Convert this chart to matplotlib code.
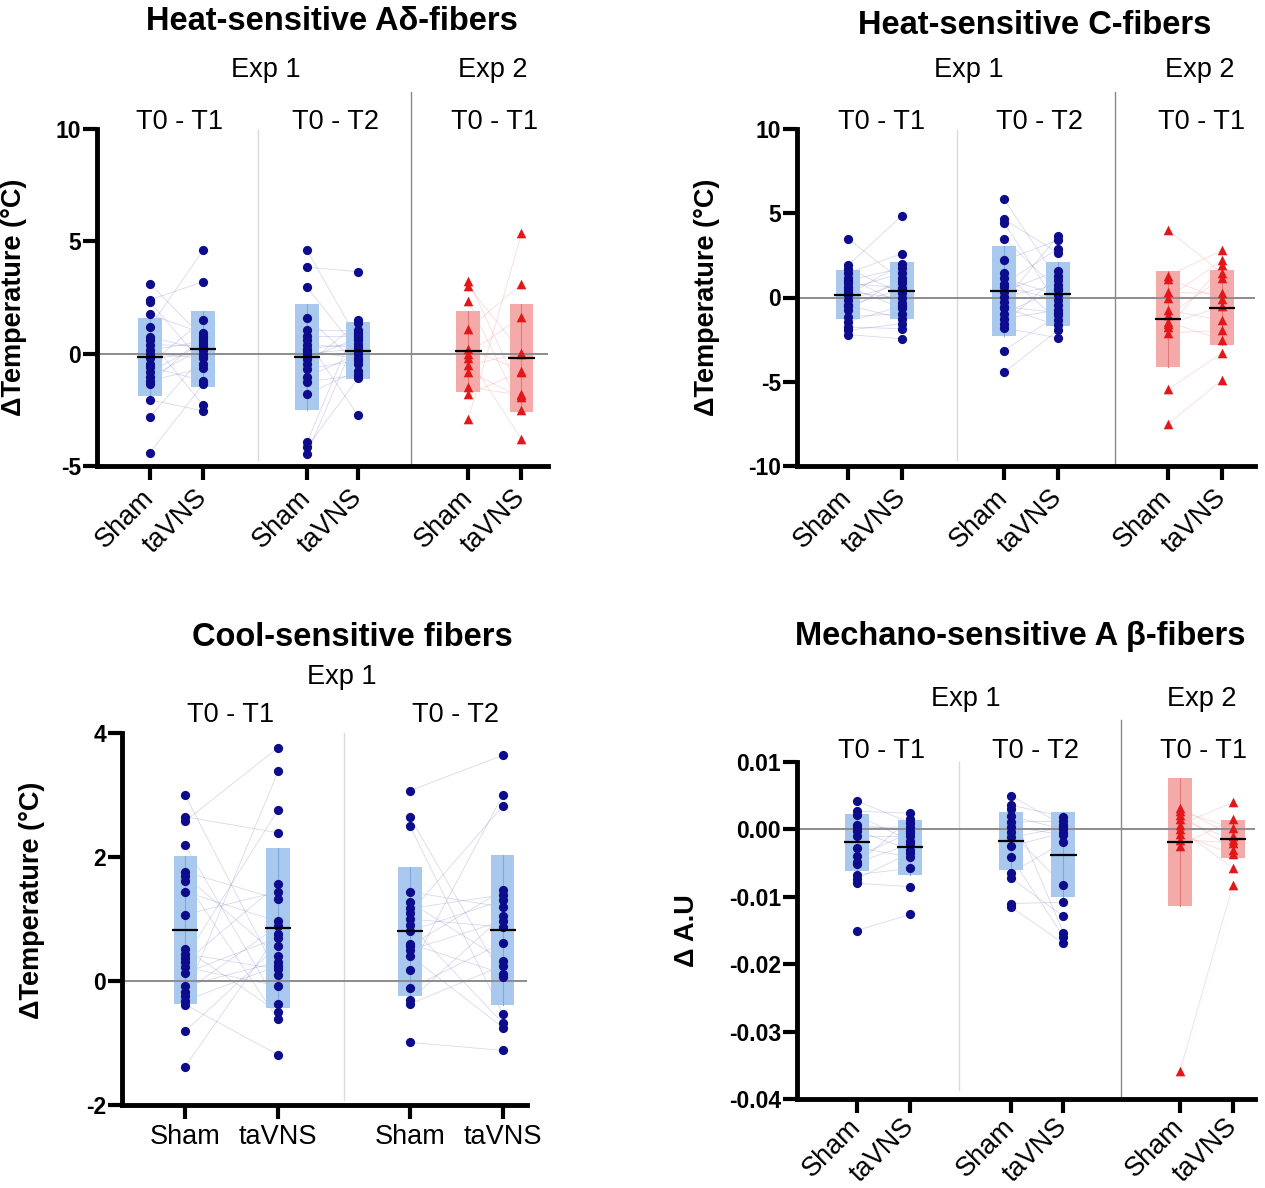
import matplotlib
matplotlib.use('Agg')
import matplotlib.pyplot as plt
import matplotlib.transforms as mtransforms

plt.rcParams['font.family'] = ['Liberation Sans', 'DejaVu Sans']

# ---------------- DATA ----------------
categories = ['Sham', 'taVNS']

# Heat-sensitive A-delta fibers
ad_sham_t1 = [3.1, 2.4, 2.3, 1.75, 1.2, 0.75, 0.6, 0.4, 0.15, 0.0, -0.2, -0.45, -0.6, -0.8, -1.05, -1.2, -1.35, -2.05, -2.8, -4.4]
ad_tavns_t1 = [0.7, 3.2, -0.45, 0.9, 4.6, 0.15, -2.3, 0.35, 0.55, -0.2, 0.0, 1.5, -1.2, 0.45, 0.25, -0.65, 0.8, -2.55, -0.1, -1.35]
ad_sham_t2 = [4.6, 3.85, 2.95, 1.6, 1.05, 0.8, 0.6, 0.37, 0.22, 0.1, 0.0, -0.22, -0.45, -0.67, -1.05, -1.25, -1.8, -3.95, -4.15, -4.45]
ad_tavns_t2 = [0.6, 3.65, 0.1, -0.45, 1.05, 0.8, -2.75, 0.3, 0.45, -0.2, 0.22, 0.7, 1.35, -0.3, 0.0, -0.95, -0.75, 1.5, -1.1, 0.9]
ad_sham_e2 = [3.25, 3.0, 2.35, 1.1, 0.2, 0.0, -0.2, -0.5, -0.8, -1.5, -1.8, -2.9]
ad_tavns_e2 = [-1.8, 0.05, -2.5, 3.1, -0.75, 1.65, -3.8, 0.0, -1.95, -1.85, -0.8, 5.35]
ad_means = [-0.15, 0.2, -0.15, 0.13, 0.1, -0.2]
ad_sds = [1.75, 1.7, 2.35, 1.27, 1.8, 2.4]

# Heat-sensitive C fibers
c_sham_t1 = [3.5, 1.9, 1.7, 1.45, 1.15, 1.0, 0.85, 0.65, 0.5, 0.35, 0.15, -0.15, -0.45, -0.5, -0.75, -1.15, -1.45, -1.75, -1.95, -2.2]
c_tavns_t1 = [1.0, 4.85, 0.25, 2.6, -0.35, 1.75, 0.55, -0.65, 1.45, -0.05, 2.0, 0.85, -1.25, 0.5, 1.15, -0.95, -0.5, -1.85, -1.55, -2.45]
c_sham_t2 = [5.85, 4.65, 4.45, 3.5, 2.2, 1.45, 1.15, 0.8, 0.65, 0.35, 0.05, -0.25, -0.55, -0.6, -0.95, -1.25, -1.55, -1.8, -3.15, -4.45]
c_tavns_t2 = [1.05, 2.65, -0.45, 0.45, 3.4, -1.35, 0.15, 2.9, -0.15, 1.6, 0.75, 3.65, -0.9, -1.65, 0.5, -0.75, 1.3, -2.4, -1.05, -1.95]
c_sham_e2 = [4.0, 1.3, 1.1, 0.3, 0.0, -0.75, -1.05, -1.45, -1.6, -1.75, -2.1, -5.45, -7.5]
c_tavns_e2 = [1.45, 2.8, -0.1, 0.25, 2.2, -1.35, 1.15, -2.5, -0.5, 1.9, -1.95, -3.3, -4.9]
c_means = [0.165, 0.4, 0.4, 0.21, -1.25, -0.6]
c_sds = [1.47, 1.7, 2.68, 1.91, 2.85, 2.23]

# Cool-sensitive fibers
cool_sham_t1 = [3.0, 2.65, 2.58, 2.19, 1.76, 1.7, 1.62, 1.44, 1.07, 0.52, 0.44, 0.37, 0.3, 0.22, 0.13, -0.08, -0.17, -0.24, -0.32, -0.38, -0.81, -1.38]
cool_tavns_t1 = [0.09, 2.39, 3.76, -0.37, 1.32, 0.4, -0.62, 0.96, 1.44, -0.5, 0.19, 2.76, 1.56, -0.08, 0.7, 0.31, 0.89, 3.38, 0.25, -1.19, 0.57, 0.76]
cool_sham_t2 = [3.07, 2.64, 2.5, 1.44, 1.27, 1.17, 1.1, 1.0, 0.9, 0.81, 0.6, 0.57, 0.5, 0.41, 0.18, -0.12, -0.31, -0.37, -0.99]
cool_tavns_t2 = [3.64, 0.06, -0.54, 1.19, 0.33, 1.39, 2.82, 0.87, -0.68, 1.3, 0.12, 1.46, 0.97, -0.75, 3.0, 0.62, 1.05, 0.25, -1.12]
cool_means = [0.825, 0.855, 0.8, 0.825]
cool_sds = [1.195, 1.295, 1.04, 1.205]

# Mechano-sensitive A-beta fibers
m_sham_t1 = [0.0042, 0.0027, 0.0021, 0.0007, 0.0002, -0.0002, -0.001, -0.0027, -0.004, -0.0049, -0.0052, -0.0067, -0.0073, -0.008, -0.015]
m_tavns_t1 = [0.001, 0.0024, -0.0017, -0.0002, 0.0004, -0.003, -0.001, -0.0041, -0.0005, -0.0022, 0.0016, -0.0058, -0.0035, -0.0085, -0.0126]
m_sham_t2 = [0.005, 0.0036, 0.003, 0.002, 0.0011, 0.0004, -0.0004, -0.0012, -0.0025, -0.0041, -0.0065, -0.0072, -0.011, -0.0115]
m_tavns_t2 = [0.0006, 0.0019, -0.0153, 0.0, 0.0012, -0.0008, -0.0083, 0.0003, -0.0005, -0.0159, -0.0019, -0.0129, -0.0108, -0.0169]
m_sham_e2 = [0.0032, 0.0027, 0.0022, 0.0015, 0.0007, 0.0, -0.0007, -0.0015, -0.0024, -0.0358]
m_tavns_e2 = [-0.001, 0.0002, -0.003, -0.0015, 0.004, -0.0057, -0.0037, -0.002, 0.0015, -0.0083]
m_means = [-0.0019, -0.00265, -0.0017, -0.00375, -0.0019, -0.0014]
m_sds = [0.0042, 0.00405, 0.0043, 0.00635, 0.0095, 0.0028]

# ---------------- STYLE ----------------
W, H = 1265, 1188
fig = plt.figure(figsize=(W / 100, H / 100), dpi=100)

BLUE = '#0c0c8c'
BLUE_BAR = '#a8c8ee'
BLUE_LINE = '#8080c4'
RED = '#e3171a'
RED_BAR = '#f5aaaa'
RED_LINE = '#e88a8a'
FS = 19.5


def fx(px):
    return px / W


def fy(py):
    return 1 - py / H


def make_axes(left, right, top, bottom):
    return fig.add_axes([fx(left), fy(bottom), (right - left) / W, (bottom - top) / H])


def draw_panel(ax, groups, means, sds, positions, kinds, bar_w, xlim, ylim, yticks,
               yfmt, seps, rotate, ylabel, ylabel_xy, xpad=10):
    for i in range(0, len(groups), 2):
        lc = RED_LINE if kinds[i] == 'r' else BLUE_LINE
        for a, b in zip(groups[i], groups[i + 1]):
            ax.plot([positions[i], positions[i + 1]], [a, b], color=lc, lw=0.6,
                    alpha=0.3, zorder=1)
    for g, m, s, x, k in zip(groups, means, sds, positions, kinds):
        bc = RED_BAR if k == 'r' else BLUE_BAR
        pc = RED if k == 'r' else BLUE
        mk = '^' if k == 'r' else 'o'
        ax.bar(x, 2 * s, bottom=m - s, width=bar_w, color=bc, zorder=2, linewidth=0)
        ax.plot([x, x], [m - s, m + s], color=('#e07a7a' if k == 'r' else '#7ea8dc'),
                lw=0.8, zorder=2.2)
        ax.scatter([x] * len(g), g, s=(44 if k == 'b' else 48), marker=mk, color=pc,
                   zorder=3, linewidths=0)
        ax.plot([x - bar_w * 0.55, x + bar_w * 0.55], [m, m], color='black', lw=1.6,
                zorder=4, solid_capstyle='butt')
    ax.axhline(0, color='#8c8c8c', lw=1.4, zorder=2.5)

    tr = mtransforms.blended_transform_factory(ax.transData, ax.transAxes)
    for xs, y0, y1, col in seps:
        ax.plot([xs, xs], [y0, y1], color=col, lw=1.0, transform=tr, clip_on=False,
                zorder=0.5)

    ax.set_xlim(*xlim)
    ax.set_ylim(*ylim)
    ax.set_yticks(yticks)
    ax.set_yticklabels([yfmt.format(v) for v in yticks], fontsize=16.5, fontweight='bold')
    ax.set_xticks(positions)
    labels = [categories[i % 2] for i in range(len(positions))]
    if rotate:
        ax.set_xticklabels(labels, rotation=45, ha='right', va='center',
                           rotation_mode='anchor', fontsize=FS)
    else:
        ax.set_xticklabels(labels, fontsize=FS)
    for sp in ['top', 'right']:
        ax.spines[sp].set_visible(False)
    for sp in ['left', 'bottom']:
        ax.spines[sp].set_linewidth(3.5)
    ax.tick_params(axis='y', length=10, width=3, pad=1.5)
    ax.tick_params(axis='x', length=10, width=3, pad=(xpad if rotate else 4))
    ax.set_ylabel(ylabel, fontsize=FS, fontweight='bold')
    ax.yaxis.set_label_coords(*ylabel_xy)
    ax.patch.set_alpha(0)


# Panel 1
ax1 = make_axes(97, 548, 129, 466)
draw_panel(ax1, [ad_sham_t1, ad_tavns_t1, ad_sham_t2, ad_tavns_t2, ad_sham_e2, ad_tavns_e2],
           ad_means, ad_sds, [0, 1, 2.96, 3.92, 6.0, 7.0], ['b', 'b', 'b', 'b', 'r', 'r'],
           0.45, (-1.0, 7.5), (-5, 10), [-5, 0, 5, 10], '{:g}',
           [(2.04, 0.018, 0.997, '#d9d9e6'), (4.92, 0.0, 1.11, '#8a8a8a')], True,
           'ΔTemperature (°C)', (-0.155, 0.5))

# Panel 2
ax2 = make_axes(797, 1255, 129, 466)
draw_panel(ax2, [c_sham_t1, c_tavns_t1, c_sham_t2, c_tavns_t2, c_sham_e2, c_tavns_e2],
           c_means, c_sds, [0, 1, 2.89, 3.89, 5.93, 6.93], ['b', 'b', 'b', 'b', 'r', 'r'],
           0.45, (-0.94, 7.54), (-10, 10), [-10, -5, 0, 5, 10], '{:g}',
           [(2.02, 0.018, 0.997, '#d9d9e6'), (4.94, 0.0, 1.11, '#8a8a8a')], True,
           'ΔTemperature (°C)', (-0.168, 0.5))

# Panel 3
ax3 = make_axes(122, 527, 733, 1105)
draw_panel(ax3, [cool_sham_t1, cool_tavns_t1, cool_sham_t2, cool_tavns_t2],
           cool_means, cool_sds, [0, 1, 2.42, 3.42], ['b', 'b', 'b', 'b'],
           0.25, (-0.68, 3.68), (-2, 4), [-2, 0, 2, 4], '{:g}',
           [(1.71, 0.013, 1.0, '#d9d9e6')], False,
           'ΔTemperature (°C)', (-0.19, 0.55))

# Panel 4
ax4 = make_axes(797, 1255, 762, 1099)
draw_panel(ax4, [m_sham_t1, m_tavns_t1, m_sham_t2, m_tavns_t2, m_sham_e2, m_tavns_e2],
           m_means, m_sds, [0, 1, 2.9, 3.89, 6.09, 7.08], ['b', 'b', 'b', 'b', 'r', 'r'],
           0.45, (-1.13, 7.5), (-0.04, 0.01), [-0.04, -0.03, -0.02, -0.01, 0.0, 0.01], '{:.2f}',
           [(1.92, 0.027, 1.0, '#d9d9e6'), (4.98, 0.0, 1.125, '#8a8a8a')], True,
           'Δ A.U', (-0.212, 0.5), xpad=7)

# ---------------- TEXT ----------------
def t(x, y, s, **kw):
    fig.text(fx(x), fy(y), s, ha='center', va='center', **kw)


TFS = 23.5
t(332, 22, 'Heat-sensitive Aδ-fibers', fontsize=TFS, fontweight='bold')
t(1035, 25, 'Heat-sensitive C-fibers', fontsize=TFS, fontweight='bold')
t(352, 637, 'Cool-sensitive fibers', fontsize=TFS, fontweight='bold')
t(1020, 636, 'Mechano-sensitive A β-fibers', fontsize=TFS, fontweight='bold')

t(266, 70, 'Exp 1', fontsize=FS)
t(493, 70, 'Exp 2', fontsize=FS)
t(969, 70, 'Exp 1', fontsize=FS)
t(1200, 70, 'Exp 2', fontsize=FS)
t(342, 677, 'Exp 1', fontsize=FS)
t(966, 699, 'Exp 1', fontsize=FS)
t(1202, 699, 'Exp 2', fontsize=FS)

for x, s in [(180, 'T0 - T1'), (335, 'T0 - T2'), (495, 'T0 - T1'),
             (882, 'T0 - T1'), (1040, 'T0 - T2'), (1202, 'T0 - T1')]:
    t(x, 122, s, fontsize=FS)
for x, s in [(231, 'T0 - T1'), (456, 'T0 - T2')]:
    t(x, 715, s, fontsize=FS)
for x, s in [(882, 'T0 - T1'), (1035, 'T0 - T2'), (1204, 'T0 - T1')]:
    t(x, 751, s, fontsize=FS)

fig.savefig('out.png', dpi=100)
